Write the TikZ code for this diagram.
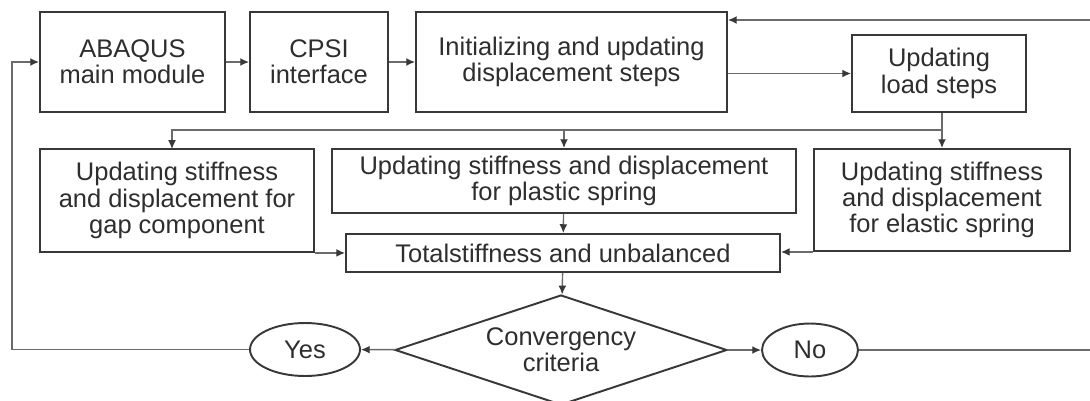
\documentclass[tikz,border=0pt]{standalone}
\usepackage{fontspec}
\setmainfont{Liberation Sans}
\usetikzlibrary{arrows.meta,shapes.geometric}
\definecolor{linegray}{gray}{0.42}
\definecolor{boxgray}{gray}{0.22}
\definecolor{textgray}{gray}{0.18}

\begin{document}
\begin{tikzpicture}[x=0.02cm,y=-0.02cm,->,>={Latex[length=5pt,width=4.5pt,color=boxgray]},
  line width=0.8pt,draw=linegray,
  main node/.style={rectangle,draw=boxgray,line width=1.1pt,fill=white,align=center,
    inner sep=1pt,text=textgray,font=\fontsize{14.5}{15}\selectfont},
  oval node/.style={main node,ellipse,inner sep=0pt},
  decision/.style={main node,diamond,inner sep=0pt,aspect=3}]
\useasboundingbox (0,0) rectangle (1090,400);

% top row
  \node[main node,minimum width=3.7cm,minimum height=2cm] (abaqus) at (132.5,62) {ABAQUS\\main module};
  \node[main node,minimum width=2.76cm,minimum height=2cm] (cpsi) at (319,62) {CPSI\\interface};
  \node[main node,minimum width=6.22cm,minimum height=2cm] (init) at (571.5,62) {Initializing and updating\\displacement steps};
  \node[main node,minimum width=3.48cm,minimum height=1.54cm] (load) at (939,73.5) {Updating\\load steps};

  \path
    (abaqus) edge (cpsi)
    (cpsi) edge (init)
    (init.east |- load.west) edge (load.west);

% middle row
  \node[main node,minimum width=5.48cm,minimum height=2.06cm] (gap) at (177,200.5) {Updating stiffness\\and displacement for\\gap component};
  \node[main node,minimum width=9.28cm,minimum height=1.28cm] (plastic) at (564,181) {Updating stiffness and displacement\\for plastic spring};
  \node[main node,minimum width=5.12cm,minimum height=2.04cm] (elastic) at (942,200) {Updating stiffness\\and displacement\\for elastic spring};
  \node[main node,minimum width=8.68cm,minimum height=0.76cm] (total) at (563,253) {Totalstiffness and unbalanced};

  \coordinate (split) at (942,130);
  \coordinate (gapin) at (172,149);
  \draw (split |- load.south) -- (elastic.north);
  \draw (split) -| (plastic.north);
  \draw (split) -| (gapin);

  \path
    (plastic) edge (total)
    (gap.south east) edge (gap.south east -| total.west)
    (elastic.south west) edge (elastic.south west -| total.east);

% convergency check
  \node[decision,minimum width=6.64cm,minimum height=2.2cm] (conv) at (561,350) {Convergency\\criteria};
  \node[oval node,minimum width=2.2cm,minimum height=1.06cm] (yes) at (305,349.5) {Yes};
  \node[oval node,minimum width=1.92cm,minimum height=1.06cm] (no) at (810,350) {No};

  \path
    (total) edge (conv)
    (conv) edge (yes)
    (conv) edge (no);

% loops back
  \coordinate (backL) at (12,349.5);
  \coordinate (backR) at (1096,350);
  \coordinate (backT) at (1096,20);
  \draw (yes.west) -- (backL) |- (abaqus.west);
  \draw (no.east) -- (backR) -- (backT) -- (backT -| init.east);

\end{tikzpicture}
\end{document}
